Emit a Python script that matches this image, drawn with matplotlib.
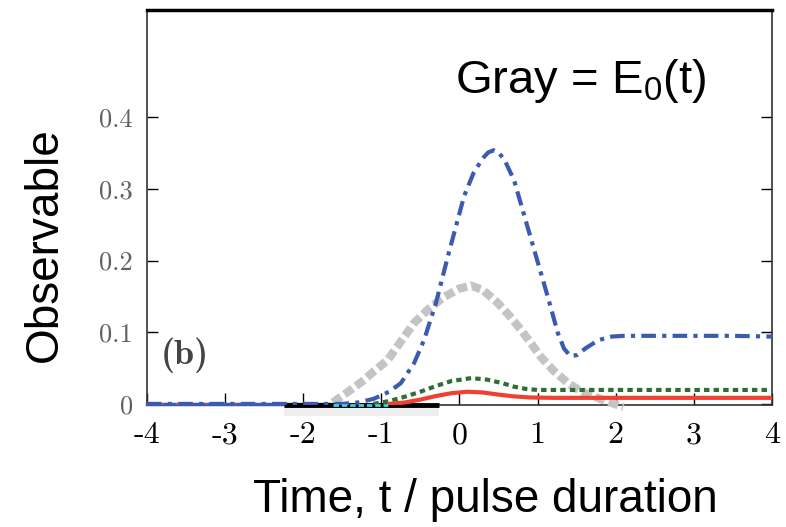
import numpy as np
import matplotlib
matplotlib.use("Agg")
import matplotlib.pyplot as plt

# curvas (t / pulse duration, observable)
t_blue = [-4.0, -1.5, -1.3, -1.1, -0.9, -0.75, -0.58, -0.45, -0.3, -0.15, 0.06, 0.18,
          0.3, 0.37, 0.44, 0.5, 0.58, 0.7, 0.92, 1.13, 1.26, 1.34, 1.42, 1.5, 1.62, 1.78,
          1.95, 2.1, 2.5, 3.0, 3.5, 4.0]
y_blue = [0.0, 0.0, 0.002, 0.007, 0.017, 0.029, 0.057, 0.09, 0.141, 0.205, 0.29, 0.322,
          0.343, 0.351, 0.354, 0.351, 0.34, 0.312, 0.229, 0.15, 0.099, 0.077, 0.067,
          0.068, 0.078, 0.089, 0.094, 0.095, 0.095, 0.095, 0.095, 0.094]

t_gray = [-1.62, -1.45, -1.25, -1.1, -0.92, -0.75, -0.58, -0.4, -0.2, 0.0, 0.15, 0.3,
          0.49, 0.65, 0.79, 0.92, 1.04, 1.2, 1.39, 1.55, 1.73, 1.9, 2.1]
y_gray = [0.002, 0.015, 0.031, 0.045, 0.061, 0.087, 0.113, 0.132, 0.149, 0.161, 0.165,
          0.159, 0.141, 0.122, 0.103, 0.084, 0.066, 0.047, 0.029, 0.018, 0.01, 0.003, -0.004]

t_green = [-1.1, -0.9, -0.7, -0.5, -0.3, -0.1, 0.15, 0.35, 0.55, 0.7, 0.85, 1.0, 1.5,
           2.0, 3.0, 4.0]
y_green = [0.0, 0.004, 0.01, 0.017, 0.025, 0.032, 0.036, 0.034, 0.029, 0.024, 0.021,
           0.0195, 0.0195, 0.0195, 0.0195, 0.0195]

t_red = [-0.9, -0.7, -0.5, -0.3, -0.1, 0.1, 0.3, 0.5, 0.7, 0.9, 1.2, 2.0, 3.0, 4.0]
y_red = [0.0, 0.002, 0.006, 0.011, 0.015, 0.017, 0.016, 0.013, 0.0105, 0.009, 0.0085,
         0.0085, 0.0085, 0.0085]

t_black = [-2.25, -0.26]
y_black = [-0.002, -0.002]
t_cyan = [-1.62, -0.92]
y_cyan = [-0.002, -0.002]

xticks = [-4, -3, -2, -1, 0, 1, 2, 3, 4]
yticks = [0, 0.1, 0.2, 0.3, 0.4]
ytick_labels = ["0", "0.1", "0.2", "0.3", "0.4"]


def main():
    plt.rcParams["mathtext.default"] = "regular"
    fig = plt.figure(figsize=(7.86, 5.27), dpi=100)
    ax = fig.add_axes([0.187, 0.2315, 0.795, 0.75])

    # linea base (azul/roja) antes del pulso
    ax.plot([-4.0, -1.5], [0, 0], color="#3a5bb0", lw=2.5, zorder=3, clip_on=False)
    ax.plot([-4.0, -1.5], [0, 0], color="#f04030", lw=1.5, ls=(0, (1, 6)), zorder=4,
            clip_on=False)
    # sombra bajo la linea negra
    ax.plot(t_black, [-0.01, -0.01], color="#e4e4e4", lw=7, alpha=0.6,
            solid_capstyle="butt", zorder=2, clip_on=False)
    ax.plot(t_black, y_black, color="black", lw=3.5, solid_capstyle="butt", zorder=4,
            clip_on=False)
    ax.plot(t_cyan, y_cyan, color="#40d0e0", lw=2, ls=(0, (2, 1)), zorder=5,
            clip_on=False)

    ax.plot(t_gray, y_gray, color="#c4c4c4", lw=6, ls=(0, (1.2, 0.5)), zorder=3,
            clip_on=False)
    ax.plot(t_blue, y_blue, color="#3a5bb0", lw=3, ls=(0, (3.5, 1.5, 1, 1.5)), zorder=4)
    ax.plot(t_green, y_green, color="#2e6e32", lw=3, ls=(0, (1.3, 1)), zorder=4)
    ax.plot(t_red, y_red, color="#f04030", lw=3, zorder=4)

    ax.set_xlim(-4, 4)
    ax.set_ylim(-0.0015, 0.55)

    ax.set_xticks(xticks)
    ax.set_xticklabels([str(v) for v in xticks], family="cmr10", fontsize=23)
    ax.set_yticks(yticks)
    ax.set_yticklabels(ytick_labels, family="cmr10", fontsize=19, color="#606060")
    ax.tick_params(axis="x", direction="in", length=9, width=1, pad=12, top=False)
    ax.tick_params(axis="y", direction="in", length=8, width=1, pad=10, right=True)

    for s in ["left", "right", "bottom"]:
        ax.spines[s].set_linewidth(1.2)
        ax.spines[s].set_color("#333333")
    ax.spines["top"].set_linewidth(2.5)
    ax.spines["top"].set_color("black")

    ax.text(-3.52, 0.068, "(b)", family="cmb10", fontsize=26, color="#444444",
            ha="center", va="center")
    ax.text(1.55, 0.45, r"Gray = E$_0$(t)", family="Liberation Sans", fontsize=34,
            ha="center", va="center")

    fig.text(45 / 786, 1 - 245 / 527, "Observable", family="Liberation Sans",
             fontsize=33, rotation=90, ha="center", va="center")
    fig.text(485 / 786, 1 - 500 / 527, "Time, t / pulse duration",
             family="Liberation Sans", fontsize=33, ha="center", va="center")

    fig.savefig("out.png", dpi=100)


if __name__ == "__main__":
    main()
